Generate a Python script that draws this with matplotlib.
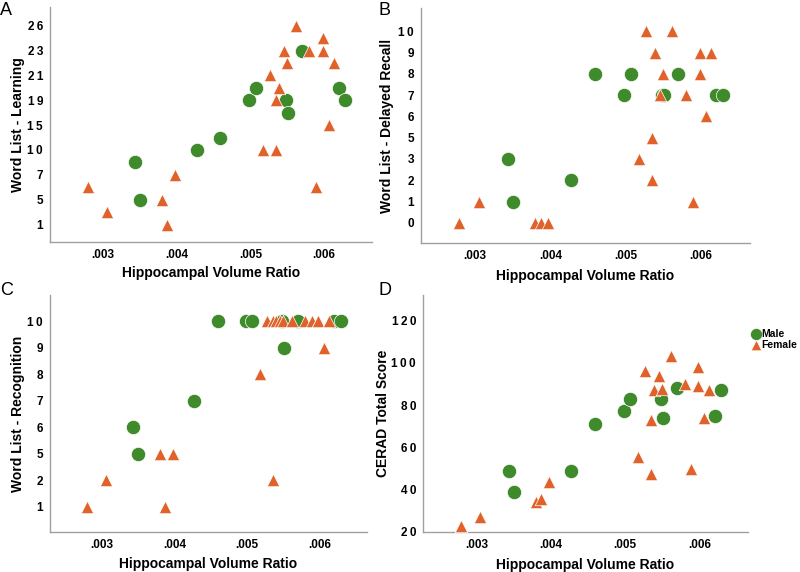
import numpy as np
import matplotlib
matplotlib.use("Agg")
import matplotlib.pyplot as plt

plt.rcParams['font.family'] = ['Liberation Sans', 'DejaVu Sans']

# hippocampal volume ratio (x1e-3)
male_x = [3.43, 3.50, 4.27, 4.59, 4.98, 5.07, 5.48, 5.51, 5.70, 6.20, 6.29]
female_x = [2.79, 3.05, 3.80, 3.87, 3.97, 5.17, 5.27, 5.35, 5.35, 5.39, 5.45,
            5.49, 5.62, 5.80, 5.89, 5.98, 5.98, 6.06, 6.13]

# A: word list learning (ordinal scale)
learn_levels = [1, 3, 5, 6, 7, 8, 10, 13, 15, 17, 19, 20, 21, 22, 23, 25, 26]
learn_male = [8, 5, 10, 13, 19, 20, 19, 17, 23, 20, 19]
learn_female = [6, 3, 5, 1, 7, 10, 21, 10, 19, 20, 23, 22, 26, 23, 6, 25, 23, 15, 22]

# B: delayed recall
recall_levels = [0, 1, 2, 3, 5, 6, 7, 8, 9, 10]
recall_male = [3, 1, 2, 8, 7, 8, 7, 7, 8, 7, 7]
recall_female = [0, 1, 0, 0, 0, 3, 10, 2, 5, 9, 7, 8, 10, 7, 1, 9, 8, 6, 9]

# C: recognition
recog_levels = [1, 2, 5, 6, 7, 8, 9, 10]
recog_male = [6, 5, 7, 10, 10, 10, 10, 9, 10, 10, 10]
recog_female = [1, 2, 5, 1, 5, 8, 10, 2, 10, 10, 10, 10, 10, 10, 10, 10, 10, 9, 10]

# D: CERAD total
cerad_ticks = [20, 40, 60, 80, 100, 120]
cerad_male = [49, 39, 49, 71, 77, 83, 83, 74, 88, 75, 87]
cerad_female = [23, 27, 34, 35.5, 43.5, 55.6, 96, 47.5, 72.7, 86.9, 93.8,
                87.8, 103, 89.8, 49.7, 97.9, 88.9, 73.8, 86.9]

green = '#3f8a2a'
orange = '#e0622a'

fig = plt.figure(figsize=(8, 5.72), dpi=100)
W, H = 800, 572


def spaced(v):
    return '\u2009'.join(str(v))


def make_ax(left, top, right, bottom, ylab, ylab_x, xlab_y):
    ax = fig.add_axes([left / W, 1 - bottom / H, (right - left) / W, (bottom - top) / H])
    for s in ['top', 'right']:
        ax.spines[s].set_visible(False)
    for s in ['left', 'bottom']:
        ax.spines[s].set_color('#a0a0a0')
        ax.spines[s].set_linewidth(1.0)
    ax.tick_params(length=0, labelsize=8.5, pad=5)
    ax.set_xlim(0.00228, 0.00665)
    ax.set_xticks([0.003, 0.004, 0.005, 0.006])
    ax.set_xticklabels(['.003', '.004', '.005', '.006'], fontweight='bold')
    ax.set_xlabel('Hippocampal Volume Ratio', fontsize=10, fontweight='bold', va='center')
    ax.xaxis.set_label_coords(0.5, (bottom - xlab_y) / (bottom - top))
    ax.set_ylabel(ylab, fontsize=10, fontweight='bold', va='center')
    ax.yaxis.set_label_coords((ylab_x - left) / (right - left), 0.5)
    return ax


def scatter(ax, ym, yf):
    mx = np.array(male_x) / 1000
    fx = np.array(female_x) / 1000
    ax.scatter(mx, ym, s=105, marker='o', color=green, edgecolors='white',
               linewidths=0.5, zorder=3, label='Male')
    ax.scatter(fx, yf, s=80, marker='^', color=orange, edgecolors='white',
               linewidths=0.5, zorder=3, label='Female')


def ordinal(levels, vals):
    return [levels.index(v) for v in vals]


# A
axA = make_ax(50, 7, 372, 242, 'Word List - Learning', 18, 273)
scatter(axA, ordinal(learn_levels, learn_male), ordinal(learn_levels, learn_female))
axA.set_ylim(-1.4, 17.5)
axA.set_yticks(range(0, len(learn_levels), 2))
axA.set_yticklabels([spaced(v) for v in learn_levels[::2]], fontweight='bold')

# B
axB = make_ax(421, 8, 750, 243, 'Word List - Delayed Recall', 387, 276)
scatter(axB, ordinal(recall_levels, recall_male), ordinal(recall_levels, recall_female))
axB.set_ylim(-0.95, 10.1)
axB.set_yticks(range(len(recall_levels)))
axB.set_yticklabels([spaced(v) for v in recall_levels], fontweight='bold')

# C
axC = make_ax(50, 295, 367, 532, 'Word List - Recognition', 18, 564)
scatter(axC, ordinal(recog_levels, recog_male), ordinal(recog_levels, recog_female))
axC.set_ylim(-0.96, 8.0)
axC.set_yticks(range(len(recog_levels)))
axC.set_yticklabels([spaced(v) for v in recog_levels], fontweight='bold')

# D
axD = make_ax(423, 295, 748, 532, 'CERAD Total Score', 383, 565)
scatter(axD, cerad_male, cerad_female)
axD.set_ylim(20, 132)
axD.set_yticks(cerad_ticks)
axD.set_yticklabels([spaced(v) for v in cerad_ticks], fontweight='bold')
axD.legend(loc='upper left', bbox_to_anchor=(0.99, 0.88), frameon=False,
           handletextpad=0.0, labelspacing=0.15, borderpad=0, handlelength=1.1,
           markerscale=0.85, prop={'weight': 'bold', 'size': 7.5})

for letter, x, y in [('A', 0, 2), ('B', 378, 2), ('C', 0, 282), ('D', 378, 282)]:
    fig.text(x / W, 1 - y / H, letter, fontsize=13, va='top', ha='left')

fig.savefig('out.png', dpi=100)
